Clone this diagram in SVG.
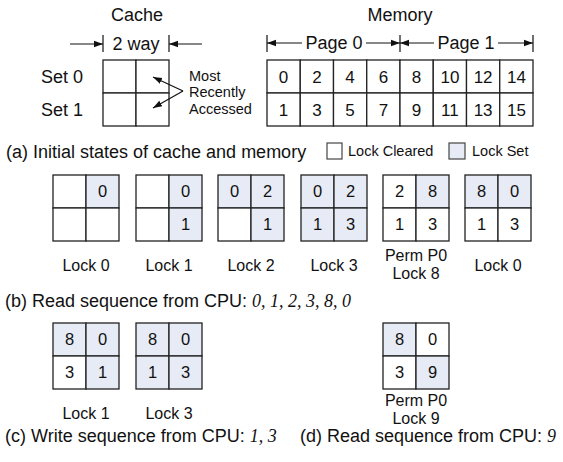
<svg xmlns="http://www.w3.org/2000/svg" width="563" height="462" viewBox="0 0 563 462">
<defs>
<style>
.t{font-family:"Liberation Sans",Arial,sans-serif;fill:#111}
.h{font-size:18px}
.s{font-size:14.5px}
.n{font-size:16.5px;text-anchor:middle}
.m{font-size:17px;text-anchor:middle}
.l{font-size:16px;text-anchor:middle}
.it{font-family:"Liberation Serif","Times New Roman",serif;font-style:italic}
.c{fill:#fff;stroke:#222;stroke-width:1.3}
.b{fill:#e6ebf5;stroke:#222;stroke-width:1.3}
.ln{stroke:#111;stroke-width:1.2;fill:none}
.bar{stroke:#111;stroke-width:1.2}
</style>
<marker id="ah" viewBox="0 0 10 10" refX="10" refY="5" markerWidth="9" markerHeight="9" markerUnits="userSpaceOnUse" orient="auto-start-reverse">
<path d="M0,1.5 L10,5 L0,8.5 z" fill="#111"/>
</marker>
</defs>
<rect width="563" height="462" fill="#fff"/>

<g id="cache">
<text class="t h" x="137" y="21" text-anchor="middle">Cache</text>
<text class="t h" x="136" y="50" text-anchor="middle">2 way</text>
<line class="bar" x1="103" y1="35" x2="103" y2="52"/>
<line class="bar" x1="169" y1="35" x2="169" y2="52"/>
<text class="t h" x="41" y="83">Set 0</text>
<text class="t h" x="41" y="116">Set 1</text>
<rect class="c" x="103" y="60" width="33" height="33"/>
<rect class="c" x="136" y="60" width="33" height="33"/>
<rect class="c" x="103" y="93" width="33" height="33"/>
<rect class="c" x="136" y="93" width="33" height="33"/>
<text class="t s" x="189" y="81">Most</text>
<text class="t s" x="189" y="97">Recently</text>
<text class="t s" x="189" y="114">Accessed</text>
</g>

<g id="memory">
<text class="t h" x="400" y="21" text-anchor="middle">Memory</text>
<text class="t h" x="334" y="49" text-anchor="middle">Page 0</text>
<text class="t h" x="466" y="49" text-anchor="middle">Page 1</text>
<line class="bar" x1="267" y1="35" x2="267" y2="52"/>
<line class="bar" x1="400" y1="35" x2="400" y2="52"/>
<line class="bar" x1="533" y1="35" x2="533" y2="52"/>
<g class="c">
<rect class="c" x="267" y="60" width="33.25" height="33"/><rect class="c" x="300.25" y="60" width="33.25" height="33"/><rect class="c" x="333.5" y="60" width="33.25" height="33"/><rect class="c" x="366.75" y="60" width="33.25" height="33"/><rect class="c" x="400" y="60" width="33.25" height="33"/><rect class="c" x="433.25" y="60" width="33.25" height="33"/><rect class="c" x="466.5" y="60" width="33.25" height="33"/><rect class="c" x="499.75" y="60" width="33.25" height="33"/>
<rect class="c" x="267" y="93" width="33.25" height="33"/><rect class="c" x="300.25" y="93" width="33.25" height="33"/><rect class="c" x="333.5" y="93" width="33.25" height="33"/><rect class="c" x="366.75" y="93" width="33.25" height="33"/><rect class="c" x="400" y="93" width="33.25" height="33"/><rect class="c" x="433.25" y="93" width="33.25" height="33"/><rect class="c" x="466.5" y="93" width="33.25" height="33"/><rect class="c" x="499.75" y="93" width="33.25" height="33"/>
</g>
<g class="t m">
<text x="283.6" y="83">0</text><text x="316.9" y="83">2</text><text x="350.1" y="83">4</text><text x="383.4" y="83">6</text><text x="416.6" y="83">8</text><text x="449.9" y="83">10</text><text x="483.1" y="83">12</text><text x="516.4" y="83">14</text>
<text x="283.6" y="116">1</text><text x="316.9" y="116">3</text><text x="350.1" y="116">5</text><text x="383.4" y="116">7</text><text x="416.6" y="116">9</text><text x="449.9" y="116">11</text><text x="483.1" y="116">13</text><text x="516.4" y="116">15</text>
</g>
</g>

<g id="connectors">
<line class="ln" x1="70" y1="44" x2="103" y2="44" marker-end="url(#ah)"/>
<line class="ln" x1="202" y1="44" x2="169" y2="44" marker-end="url(#ah)"/>
<line class="ln" x1="302" y1="43" x2="267" y2="43" marker-end="url(#ah)"/>
<line class="ln" x1="366" y1="43" x2="400" y2="43" marker-end="url(#ah)"/>
<line class="ln" x1="434" y1="43" x2="400" y2="43" marker-end="url(#ah)"/>
<line class="ln" x1="498" y1="43" x2="533" y2="43" marker-end="url(#ah)"/>
<line class="ln" x1="183" y1="91" x2="153" y2="77" marker-end="url(#ah)"/>
<line class="ln" x1="183" y1="91" x2="153" y2="108" marker-end="url(#ah)"/>
</g>

<g id="caption-a">
<text class="t h" x="6" y="158">(a) Initial states of cache and memory</text>
<rect x="327" y="143" width="15" height="16" fill="#fff" stroke="#444" stroke-width="1.2"/>
<text class="t s" x="348" y="156">Lock Cleared</text>
<rect x="449" y="143" width="16" height="16" fill="#e6ebf5" stroke="#444" stroke-width="1.2"/>
<text class="t s" x="472" y="156">Lock Set</text>
</g>

<g id="b1">
<rect class="c" x="53" y="175" width="33" height="33"/><rect class="b" x="86" y="175" width="33" height="33"/>
<rect class="c" x="53" y="208" width="33" height="33"/><rect class="c" x="86" y="208" width="33" height="33"/>
<text class="t n" x="102.5" y="197">0</text>
<text class="t l" x="86" y="271">Lock 0</text>
</g>
<g id="b2">
<rect class="c" x="136" y="175" width="33" height="33"/><rect class="b" x="169" y="175" width="33" height="33"/>
<rect class="c" x="136" y="208" width="33" height="33"/><rect class="b" x="169" y="208" width="33" height="33"/>
<text class="t n" x="185.5" y="197">0</text><text class="t n" x="185.5" y="230">1</text>
<text class="t l" x="169" y="271">Lock 1</text>
</g>
<g id="b3">
<rect class="b" x="218" y="175" width="33" height="33"/><rect class="b" x="251" y="175" width="33" height="33"/>
<rect class="c" x="218" y="208" width="33" height="33"/><rect class="b" x="251" y="208" width="33" height="33"/>
<text class="t n" x="234.5" y="197">0</text><text class="t n" x="267.5" y="197">2</text><text class="t n" x="267.5" y="230">1</text>
<text class="t l" x="251" y="271">Lock 2</text>
</g>
<g id="b4">
<rect class="b" x="301" y="175" width="33" height="33"/><rect class="b" x="334" y="175" width="33" height="33"/>
<rect class="b" x="301" y="208" width="33" height="33"/><rect class="b" x="334" y="208" width="33" height="33"/>
<text class="t n" x="317.5" y="197">0</text><text class="t n" x="350.5" y="197">2</text><text class="t n" x="317.5" y="230">1</text><text class="t n" x="350.5" y="230">3</text>
<text class="t l" x="334" y="271">Lock 3</text>
</g>
<g id="b5">
<rect class="c" x="383" y="175" width="33" height="33"/><rect class="b" x="416" y="175" width="33" height="33"/>
<rect class="c" x="383" y="208" width="33" height="33"/><rect class="c" x="416" y="208" width="33" height="33"/>
<text class="t n" x="399.5" y="197">2</text><text class="t n" x="432.5" y="197">8</text><text class="t n" x="399.5" y="230">1</text><text class="t n" x="432.5" y="230">3</text>
<text class="t l" x="416" y="261">Perm P0</text>
<text class="t l" x="416" y="279">Lock 8</text>
</g>
<g id="b6">
<rect class="b" x="465" y="175" width="33" height="33"/><rect class="b" x="498" y="175" width="33" height="33"/>
<rect class="c" x="465" y="208" width="33" height="33"/><rect class="c" x="498" y="208" width="33" height="33"/>
<text class="t n" x="481.5" y="197">8</text><text class="t n" x="514.5" y="197">0</text><text class="t n" x="481.5" y="230">1</text><text class="t n" x="514.5" y="230">3</text>
<text class="t l" x="498" y="271">Lock 0</text>
</g>
<text class="t h" x="5" y="307">(b) Read sequence from CPU: <tspan class="it">0, 1, 2, 3, 8, 0</tspan></text>

<g id="c1">
<rect class="b" x="53" y="323" width="33" height="33"/><rect class="b" x="86" y="323" width="33" height="33"/>
<rect class="c" x="53" y="356" width="33" height="33"/><rect class="b" x="86" y="356" width="33" height="33"/>
<text class="t n" x="69.5" y="345">8</text><text class="t n" x="102.5" y="345">0</text><text class="t n" x="69.5" y="378">3</text><text class="t n" x="102.5" y="378">1</text>
<text class="t l" x="86" y="419">Lock 1</text>
</g>
<g id="c2">
<rect class="b" x="136" y="323" width="33" height="33"/><rect class="b" x="169" y="323" width="33" height="33"/>
<rect class="b" x="136" y="356" width="33" height="33"/><rect class="b" x="169" y="356" width="33" height="33"/>
<text class="t n" x="152.5" y="345">8</text><text class="t n" x="185.5" y="345">0</text><text class="t n" x="152.5" y="378">1</text><text class="t n" x="185.5" y="378">3</text>
<text class="t l" x="169" y="419">Lock 3</text>
</g>
<g id="d1">
<rect class="b" x="383" y="323" width="33" height="33"/><rect class="c" x="416" y="323" width="33" height="33"/>
<rect class="c" x="383" y="356" width="33" height="33"/><rect class="b" x="416" y="356" width="33" height="33"/>
<text class="t n" x="399.5" y="345">8</text><text class="t n" x="432.5" y="345">0</text><text class="t n" x="399.5" y="378">3</text><text class="t n" x="432.5" y="378">9</text>
<text class="t l" x="416" y="406">Perm P0</text>
<text class="t l" x="416" y="424">Lock 9</text>
</g>
<text class="t h" x="5" y="442">(c) Write sequence from CPU: <tspan class="it">1, 3</tspan></text>
<text class="t h" x="300" y="442">(d) Read sequence from CPU: <tspan class="it">9</tspan></text>
</svg>
